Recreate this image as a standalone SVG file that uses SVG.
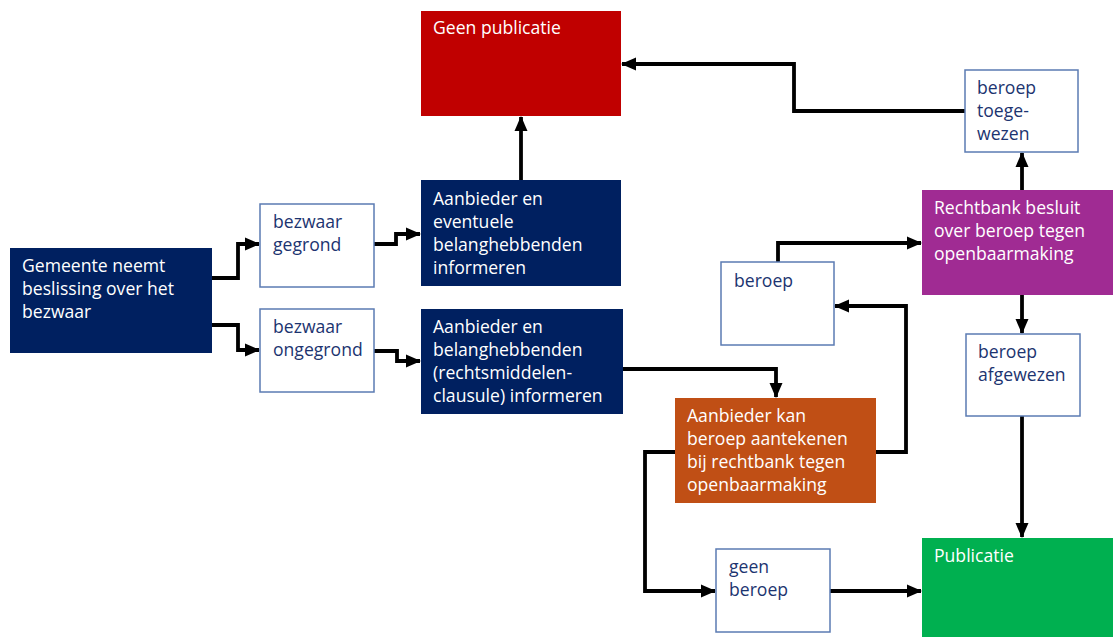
<svg xmlns="http://www.w3.org/2000/svg" width="1113" height="637" viewBox="0 0 1113 637">
<defs>
<marker id="ah" markerUnits="userSpaceOnUse" markerWidth="15" markerHeight="15" viewBox="0 0 15 15" refX="14" refY="7.5" orient="auto">
<path d="M0,1 L15,7.5 L0,14 Z" fill="#000"/>
</marker>
</defs>
<style>
.navy{fill:#002060}
.red{fill:#C00000}
.orange{fill:#C04F15}
.purple{fill:#A02B93}
.green{fill:#00B050}
.wb{fill:#fff;stroke:#5b7bb3;stroke-width:1.5}
text{font-family:"Open Sans","Liberation Sans",sans-serif;font-size:17.6px}
.wt{fill:#fff}
.bt{fill:#1c3470}
.c{fill:none;stroke:#000;stroke-width:3.8;marker-end:url(#ah)}
</style>
<g id="connectors">
<path class="c" d="M212,278 H238 V244 H259"/>
<path class="c" d="M212,325 H238 V350 H259"/>
<path class="c" d="M374,244 H396 V234 H420"/>
<path class="c" d="M374,351 H397 V361 H420"/>
<path class="c" d="M521,180 V117"/>
<path class="c" d="M623,369 H776 V397"/>
<path class="c" d="M876,452 H906 V306 H835"/>
<path class="c" d="M778,262 V243 H921"/>
<path class="c" d="M1022,190 V153"/>
<path class="c" d="M965,111 H794 V64 H622"/>
<path class="c" d="M1022,295 V333"/>
<path class="c" d="M1022,416 V537"/>
<path class="c" d="M675,452 H645 V591 H715"/>
<path class="c" d="M830,591 H921"/>
</g>
<g id="gemeente"><rect class="navy" x="10" y="248" width="202" height="105"/><text class="wt" x="22" y="272">Gemeente neemt</text><text class="wt" x="22" y="295">beslissing over het</text><text class="wt" x="22" y="318">bezwaar</text></g>
<g id="gegrond"><rect class="wb" x="260" y="204" width="114" height="83"/><text class="bt" x="273" y="228">bezwaar</text><text class="bt" x="273" y="251">gegrond</text></g>
<g id="ongegrond"><rect class="wb" x="260" y="309" width="114" height="83"/><text class="bt" x="273" y="333">bezwaar</text><text class="bt" x="273" y="356">ongegrond</text></g>
<g id="geen-publicatie"><rect class="red" x="421" y="11" width="200" height="105"/><text class="wt" x="433" y="34">Geen publicatie</text></g>
<g id="informeren1"><rect class="navy" x="421" y="180" width="200" height="106"/><text class="wt" x="433" y="205">Aanbieder en</text><text class="wt" x="433" y="228">eventuele</text><text class="wt" x="433" y="251">belanghebbenden</text><text class="wt" x="433" y="274">informeren</text></g>
<g id="informeren2"><rect class="navy" x="421" y="309" width="202" height="105"/><text class="wt" x="433" y="333">Aanbieder en</text><text class="wt" x="433" y="356">belanghebbenden</text><text class="wt" x="433" y="379">(rechtsmiddelen-</text><text class="wt" x="433" y="402">clausule) informeren</text></g>
<g id="aanbieder-kan"><rect class="orange" x="675" y="398" width="201" height="105"/><text class="wt" x="687" y="422">Aanbieder kan</text><text class="wt" x="687" y="445">beroep aantekenen</text><text class="wt" x="687" y="468">bij rechtbank tegen</text><text class="wt" x="687" y="491">openbaarmaking</text></g>
<g id="beroep"><rect class="wb" x="721" y="262" width="113" height="83"/><text class="bt" x="734" y="287">beroep</text></g>
<g id="rechtbank"><rect class="purple" x="922" y="190" width="191" height="105"/><text class="wt" x="934" y="214">Rechtbank besluit</text><text class="wt" x="934" y="237">over beroep tegen</text><text class="wt" x="934" y="260">openbaarmaking</text></g>
<g id="toegewezen"><rect class="wb" x="965" y="70" width="113" height="82"/><text class="bt" x="977" y="94">beroep</text><text class="bt" x="977" y="117">toege-</text><text class="bt" x="977" y="140">wezen</text></g>
<g id="afgewezen"><rect class="wb" x="966" y="334" width="114" height="82"/><text class="bt" x="978" y="358">beroep</text><text class="bt" x="978" y="381">afgewezen</text></g>
<g id="geen-beroep"><rect class="wb" x="716" y="549" width="114" height="83"/><text class="bt" x="729" y="573">geen</text><text class="bt" x="729" y="596">beroep</text></g>
<g id="publicatie"><rect class="green" x="922" y="538" width="191" height="99"/><text class="wt" x="934" y="562">Publicatie</text></g>
</svg>
